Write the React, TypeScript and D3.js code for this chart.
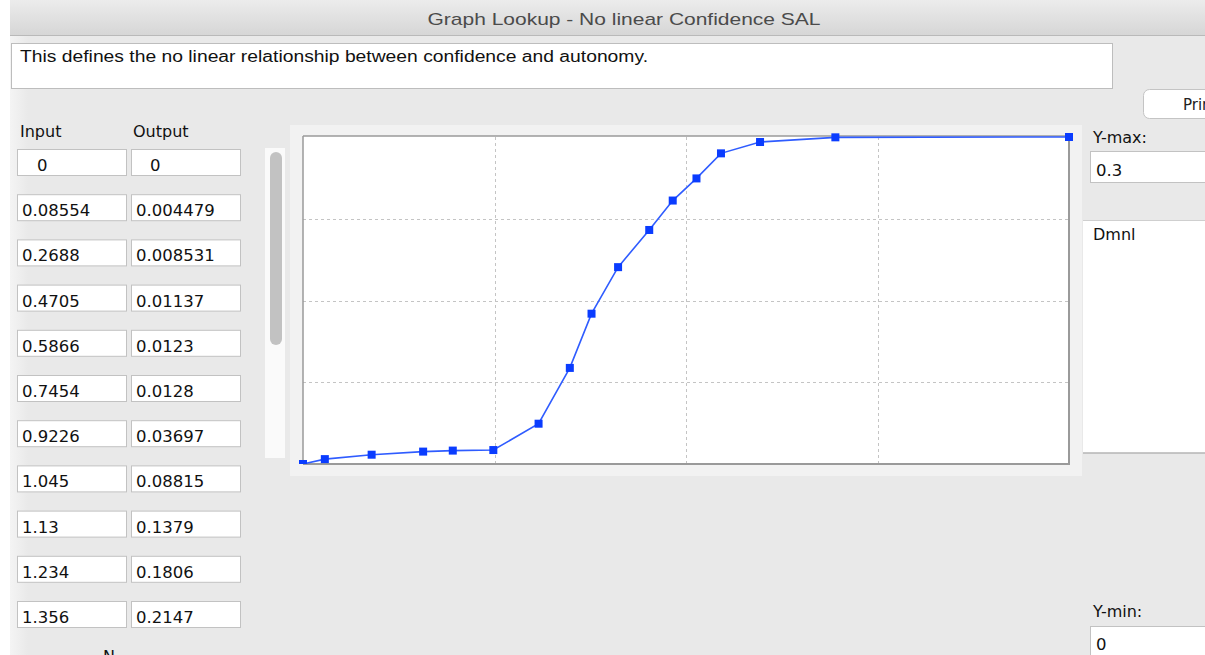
import React from 'react';
import * as d3 from 'd3';

// lookup points (table shows the first 11, chart draws all)
const inputs = [0, 0.08554, 0.2688, 0.4705, 0.5866, 0.7454, 0.9226, 1.045, 1.13, 1.234, 1.356, 1.448, 1.541, 1.637, 1.79, 2.085, 3];
const outputs = [0, 0.004479, 0.008531, 0.01137, 0.0123, 0.0128, 0.03697, 0.08815, 0.1379, 0.1806, 0.2147, 0.2417, 0.262, 0.285, 0.2954, 0.2997, 0.3];
const tableLabels = ['0', '0.08554', '0.2688', '0.4705', '0.5866', '0.7454', '0.9226', '1.045', '1.13', '1.234', '1.356'];
const tableOutLabels = ['0', '0.004479', '0.008531', '0.01137', '0.0123', '0.0128', '0.03697', '0.08815', '0.1379', '0.1806', '0.2147'];
const xDomain = [0, 3];
const yDomain = [0, 0.3];
const xGrid = [0.75, 1.5, 2.25];
const yGrid = [0.075, 0.15, 0.225];

const title = 'Graph Lookup - No linear Confidence SAL';
const description = 'This defines the no linear relationship between confidence and autonomy.';

const W = 1205;
const H = 655;
const UI = '"DejaVu Sans", sans-serif';
const HELV = '"Liberation Sans", Arial, sans-serif';

const App = () => {
  // plot area
  const plot = { left: 303, right: 1069, top: 137, bottom: 464 };
  const xScale = d3.scaleLinear().domain(xDomain).range([plot.left, plot.right]);
  const yScale = d3.scaleLinear().domain(yDomain).range([plot.bottom, plot.top]);

  const points = inputs.map((x, i) => ({ x, y: outputs[i] }));
  const line = d3
    .line<{ x: number; y: number }>()
    .x((d) => xScale(d.x))
    .y((d) => yScale(d.y));

  const rowY = (i: number) => 149 + i * 45.2;

  return (
    <svg
      width={W}
      height={H}
      style={{ position: 'fixed', left: 0, top: 0, display: 'block' }}
    >
      <defs>
        <linearGradient id="titlebar" x1="0" y1="0" x2="0" y2="1">
          <stop offset="0" stopColor="#ececec" />
          <stop offset="1" stopColor="#d6d6d6" />
        </linearGradient>
        <linearGradient id="leftshade" x1="0" y1="0" x2="1" y2="0">
          <stop offset="0" stopColor="#f4f4f4" />
          <stop offset="1" stopColor="#e9e9e9" />
        </linearGradient>
        <clipPath id="plotclip">
          <rect x={plot.left - 5} y={plot.top - 5} width={plot.right - plot.left + 10} height={plot.bottom - plot.top + 5} />
        </clipPath>
      </defs>

      {/* window background */}
      <rect x={0} y={0} width={W} height={H} fill="#e9e9e9" />
      <rect x={0} y={0} width={10} height={H} fill="#ffffff" />
      <rect x={10} y={35} width={18} height={H - 35} fill="url(#leftshade)" />

      {/* title bar */}
      <rect x={10} y={0} width={W - 10} height={35} fill="url(#titlebar)" />
      <line x1={10} x2={W} y1={35.5} y2={35.5} stroke="#b9b9b9" />
      <text x={624} y={25} textAnchor="middle" fontFamily={HELV} fontSize={17} fill="#4b4b4b" textLength={393} lengthAdjust="spacingAndGlyphs">
        {title}
      </text>

      {/* description box */}
      <rect x={11.5} y={43.5} width={1101} height={45} fill="#ffffff" stroke="#bdbdbd" />
      <text x={20} y={62} fontFamily={HELV} fontSize={16} fill="#111" textLength={628} lengthAdjust="spacingAndGlyphs">
        {description}
      </text>

      {/* print button */}
      <rect x={1143.5} y={89.5} width={80} height={29} rx={6} fill="#ffffff" stroke="#c4c4c4" />
      <text x={1183} y={110} fontFamily={UI} fontSize={15} fill="#222">Print</text>

      {/* table headers */}
      <text x={20} y={137} fontFamily={UI} fontSize={16} fill="#111">Input</text>
      <text x={133} y={137} fontFamily={UI} fontSize={16} fill="#111">Output</text>

      {/* table rows */}
      {tableLabels.map((lab, i) => (
        <g key={i}>
          <rect x={17.5} y={rowY(i) + 0.5} width={109} height={26} fill="#ffffff" stroke="#c2c2c2" />
          <rect x={131.5} y={rowY(i) + 0.5} width={109} height={26} fill="#ffffff" stroke="#c2c2c2" />
          <text x={i === 0 ? 37 : 22} y={rowY(i) + 22} fontFamily={UI} fontSize={16.5} fill="#111">{lab}</text>
          <text x={i === 0 ? 150 : 136} y={rowY(i) + 22} fontFamily={UI} fontSize={16.5} fill="#111">{tableOutLabels[i]}</text>
        </g>
      ))}
      <text x={103} y={662} fontFamily={UI} fontSize={16} fill="#111">N</text>

      {/* scrollbar */}
      <rect x={265} y={148} width={20} height={310} fill="#fafafa" />
      <rect x={270} y={152} width={12} height={193} rx={6} fill="#c2c2c2" />

      {/* plot panel */}
      <rect x={290} y={125} width={792} height={351} fill="#f2f2f2" />
      <rect x={plot.left} y={plot.top - 1} width={plot.right - plot.left} height={plot.bottom - plot.top + 1} fill="#ffffff" />

      {/* grid */}
      {xGrid.map((g) => (
        <line key={'x' + g} x1={Math.round(xScale(g)) + 0.5} x2={Math.round(xScale(g)) + 0.5} y1={plot.top} y2={plot.bottom} stroke="#c4c4c4" strokeDasharray="3,3" />
      ))}
      {yGrid.map((g) => (
        <line key={'y' + g} x1={plot.left} x2={plot.right} y1={Math.round(yScale(g)) + 0.5} y2={Math.round(yScale(g)) + 0.5} stroke="#c4c4c4" strokeDasharray="3,3" />
      ))}

      {/* plot border */}
      <line x1={plot.left} x2={plot.right} y1={plot.top - 1} y2={plot.top - 1} stroke="#9a9a9a" strokeWidth={1.5} />
      <line x1={plot.left} x2={plot.left} y1={plot.top - 1} y2={plot.bottom} stroke="#9a9a9a" strokeWidth={1.5} />
      <line x1={plot.right} x2={plot.right} y1={plot.top - 1} y2={plot.bottom + 1} stroke="#9a9a9a" strokeWidth={2} />
      <line x1={plot.left} x2={plot.right + 1} y1={plot.bottom} y2={plot.bottom} stroke="#9a9a9a" strokeWidth={2} />

      {/* lookup curve */}
      <g clipPath="url(#plotclip)">
        <path d={line(points) || ''} fill="none" stroke="#2f5cff" strokeWidth={1.6} />
        {points.map((p, i) => (
          <rect key={i} x={xScale(p.x) - 4} y={yScale(p.y) - 4} width={8} height={8} fill="#0a3cff" />
        ))}
      </g>

      {/* right side controls */}
      <text x={1093} y={143} fontFamily={UI} fontSize={16} fill="#111">Y-max:</text>
      <rect x={1090.5} y={151.5} width={130} height={31} fill="#ffffff" stroke="#c2c2c2" />
      <text x={1096} y={176} fontFamily={UI} fontSize={16.5} fill="#111">0.3</text>

      <rect x={1083} y={220} width={130} height={233} fill="#ffffff" />
      <line x1={1083} x2={W} y1={220.5} y2={220.5} stroke="#cfcfcf" />
      <line x1={1083} x2={W} y1={453} y2={453} stroke="#b4b4b4" strokeWidth={1.5} />
      <text x={1093} y={240} fontFamily={UI} fontSize={16} fill="#111">Dmnl</text>

      <text x={1093} y={617} fontFamily={UI} fontSize={16} fill="#111">Y-min:</text>
      <rect x={1090.5} y={626.5} width={130} height={40} fill="#ffffff" stroke="#c2c2c2" />
      <text x={1096} y={650} fontFamily={UI} fontSize={16.5} fill="#111">0</text>
    </svg>
  );
};

export default App;
